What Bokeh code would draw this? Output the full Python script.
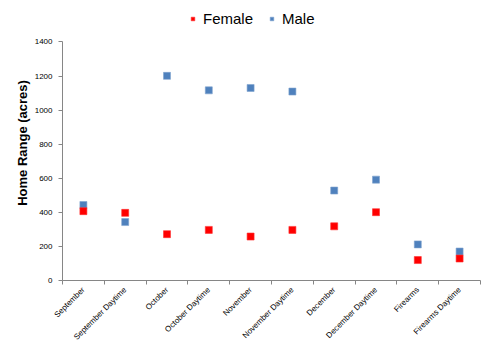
import math
from bokeh.plotting import figure
from bokeh.models import Range1d, FixedTicker, Legend, LegendItem, ColumnDataSource
from bokeh.embed import file_html
from bokeh.resources import INLINE

categories = ["September", "September Daytime", "October", "October Daytime",
              "November", "November Daytime", "December", "December Daytime",
              "Firearms", "Firearms Daytime"]
female = [407, 397, 272, 297, 258, 297, 318, 401, 120, 129]
male = [443, 343, 1201, 1116, 1130, 1109, 528, 592, 212, 170]
y_ticks = [0, 200, 400, 600, 800, 1000, 1200, 1400]
y_max = 1400

W, H = 484, 347
left, right, top, bottom = 62, 4, 5, 63
axis_top_px = 42          # pixel row of y_max
frame_h = H - top - bottom
axis_h = (H - bottom) - axis_top_px
y_end = y_max * frame_h / axis_h

xpos = [i + 0.5 for i in range(len(categories))]
src = ColumnDataSource(dict(x=xpos, female=female, male=male, cat=categories))

p = figure(width=W, height=H, output_backend="svg", toolbar_location=None,
           x_range=Range1d(0, len(categories)), y_range=Range1d(0, y_end),
           min_border_left=left, min_border_right=right, min_border_top=top,
           min_border_bottom=bottom)
p.outline_line_color = None
p.xgrid.visible = False
p.ygrid.visible = False
p.background_fill_color = "white"
p.border_fill_color = "white"

axis_color = "#868686"
font = "Liberation Sans"

# y axis
p.yaxis.bounds = (0, y_max)
p.yaxis.ticker = FixedTicker(ticks=y_ticks, minor_ticks=[])
p.yaxis.axis_line_color = axis_color
p.yaxis.major_tick_line_color = axis_color
p.yaxis.major_tick_in = 0
p.yaxis.major_tick_out = 4
p.yaxis.minor_tick_line_color = None
p.yaxis.major_label_text_font = font
p.yaxis.major_label_text_font_size = "8px"
p.yaxis.major_label_text_color = "#000000"
p.yaxis.major_label_standoff = 6
p.yaxis.axis_label = "Home Range (acres)"
p.yaxis.axis_label_text_font = font
p.yaxis.axis_label_text_font_size = "13px"
p.yaxis.axis_label_text_font_style = "bold"
p.yaxis.axis_label_text_color = "#000000"
p.yaxis.axis_label_standoff = 2

# x axis: labels at category centres, ticks at category boundaries
p.xaxis.ticker = FixedTicker(ticks=xpos, minor_ticks=list(range(len(categories) + 1)))
p.xaxis.major_label_overrides = {x: c for x, c in zip(xpos, categories)}
p.xaxis.axis_line_color = axis_color
p.xaxis.major_tick_line_color = None
p.xaxis.major_tick_in = 0
p.xaxis.major_tick_out = 0
p.xaxis.minor_tick_line_color = axis_color
p.xaxis.minor_tick_in = 0
p.xaxis.minor_tick_out = 4
p.xaxis.major_label_orientation = math.pi / 4
p.xaxis.major_label_text_font = font
p.xaxis.major_label_text_font_size = "8px"
p.xaxis.major_label_text_color = "#000000"
p.xaxis.major_label_standoff = 4

r_male = p.scatter("x", "male", source=src, marker="square", size=7,
                   fill_color="#4F81BD", line_color="#7FA3CF", line_width=0.6)
r_female = p.scatter("x", "female", source=src, marker="square", size=7,
                     fill_color="#FF0000", line_color="#FF3030", line_width=0.6)

legend = Legend(items=[LegendItem(label="Female", renderers=[r_female]),
                       LegendItem(label="Male", renderers=[r_male])],
                orientation="horizontal", location=(126, 253))
legend.label_text_font = font
legend.label_text_font_size = "15px"
legend.label_text_color = "#000000"
legend.glyph_width = 9
legend.glyph_height = 9
legend.spacing = 14
legend.label_standoff = 6
legend.border_line_color = None
legend.background_fill_alpha = 0
legend.padding = 2
legend.margin = 0
p.add_layout(legend, "center")

open("out.html", "w").write(file_html(p, INLINE))
